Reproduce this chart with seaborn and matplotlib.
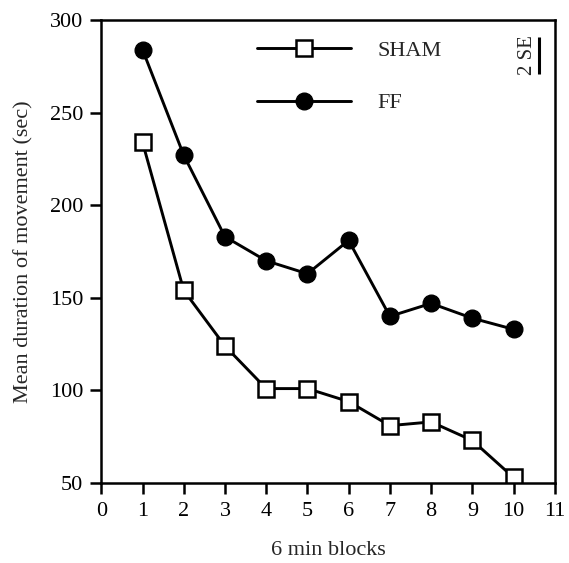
import seaborn as sns
import numpy as np
import pandas as pd
import matplotlib.pyplot as plt
from matplotlib.lines import Line2D

# values
blocks = [1, 2, 3, 4, 5, 6, 7, 8, 9, 10]
sham = [234, 154, 124, 101, 101, 94, 81, 83, 73, 53]
ff = [284, 227, 183, 170, 163, 181, 140, 147, 139, 133]
two_se = 20  # length of the "2 SE" scale bar

x_ticks = list(range(0, 12))
y_ticks = [50, 100, 150, 200, 250, 300]

sns.set_theme(style="ticks")
plt.rcParams['font.family'] = ['Liberation Serif', 'DejaVu Serif']
plt.rcParams['font.size'] = 16

fig = plt.figure(figsize=(5.69, 5.63), dpi=100)
ax = fig.add_axes([0.178, 0.142, 0.797, 0.8225])

df_sham = pd.DataFrame({"block": blocks, "duration": sham})
df_ff = pd.DataFrame({"block": blocks, "duration": ff})

sns.lineplot(data=df_ff, x="block", y="duration", ax=ax, color="black",
             lw=2.1, marker="o", ms=12, mfc="black", mec="black", mew=1)
sns.lineplot(data=df_sham, x="block", y="duration", ax=ax, color="black",
             lw=2.1, marker="s", ms=11, mfc="white", mec="black", mew=1.8)

ax.set_xlim(0, 11)
ax.set_ylim(50, 300)
ax.set_xticks(x_ticks)
ax.set_yticks(y_ticks)
ax.tick_params(axis="both", direction="out", length=8, width=1.8,
               labelsize=16, colors="black", pad=5)
ax.tick_params(axis="x", pad=6)
for s in ax.spines.values():
    s.set_linewidth(1.8)
    s.set_color("black")

ax.set_xlabel("6 min blocks", fontsize=16, labelpad=14)
ax.set_ylabel("Mean duration of movement (sec)", fontsize=16, labelpad=12)

# legend
handles = [
    Line2D([], [], color="black", lw=2.1, marker="s", ms=11, mfc="white",
           mec="black", mew=1.8),
    Line2D([], [], color="black", lw=2.1, marker="o", ms=12, mfc="black",
           mec="black"),
]
ax.legend(handles, ["SHAM", "FF"], loc="upper left",
          bbox_to_anchor=(0.30, 1.0), frameon=False, fontsize=16,
          handlelength=4.2, handletextpad=1.2, labelspacing=1.45)

# 2 SE scale bar
ax.vlines(10.62, 291 - two_se, 291, color="black", lw=2.2)
ax.text(10.33, 291 - two_se / 2, "2 SE", rotation=90, ha="center",
        va="center", fontsize=15)

fig.savefig("out.png", dpi=100)
